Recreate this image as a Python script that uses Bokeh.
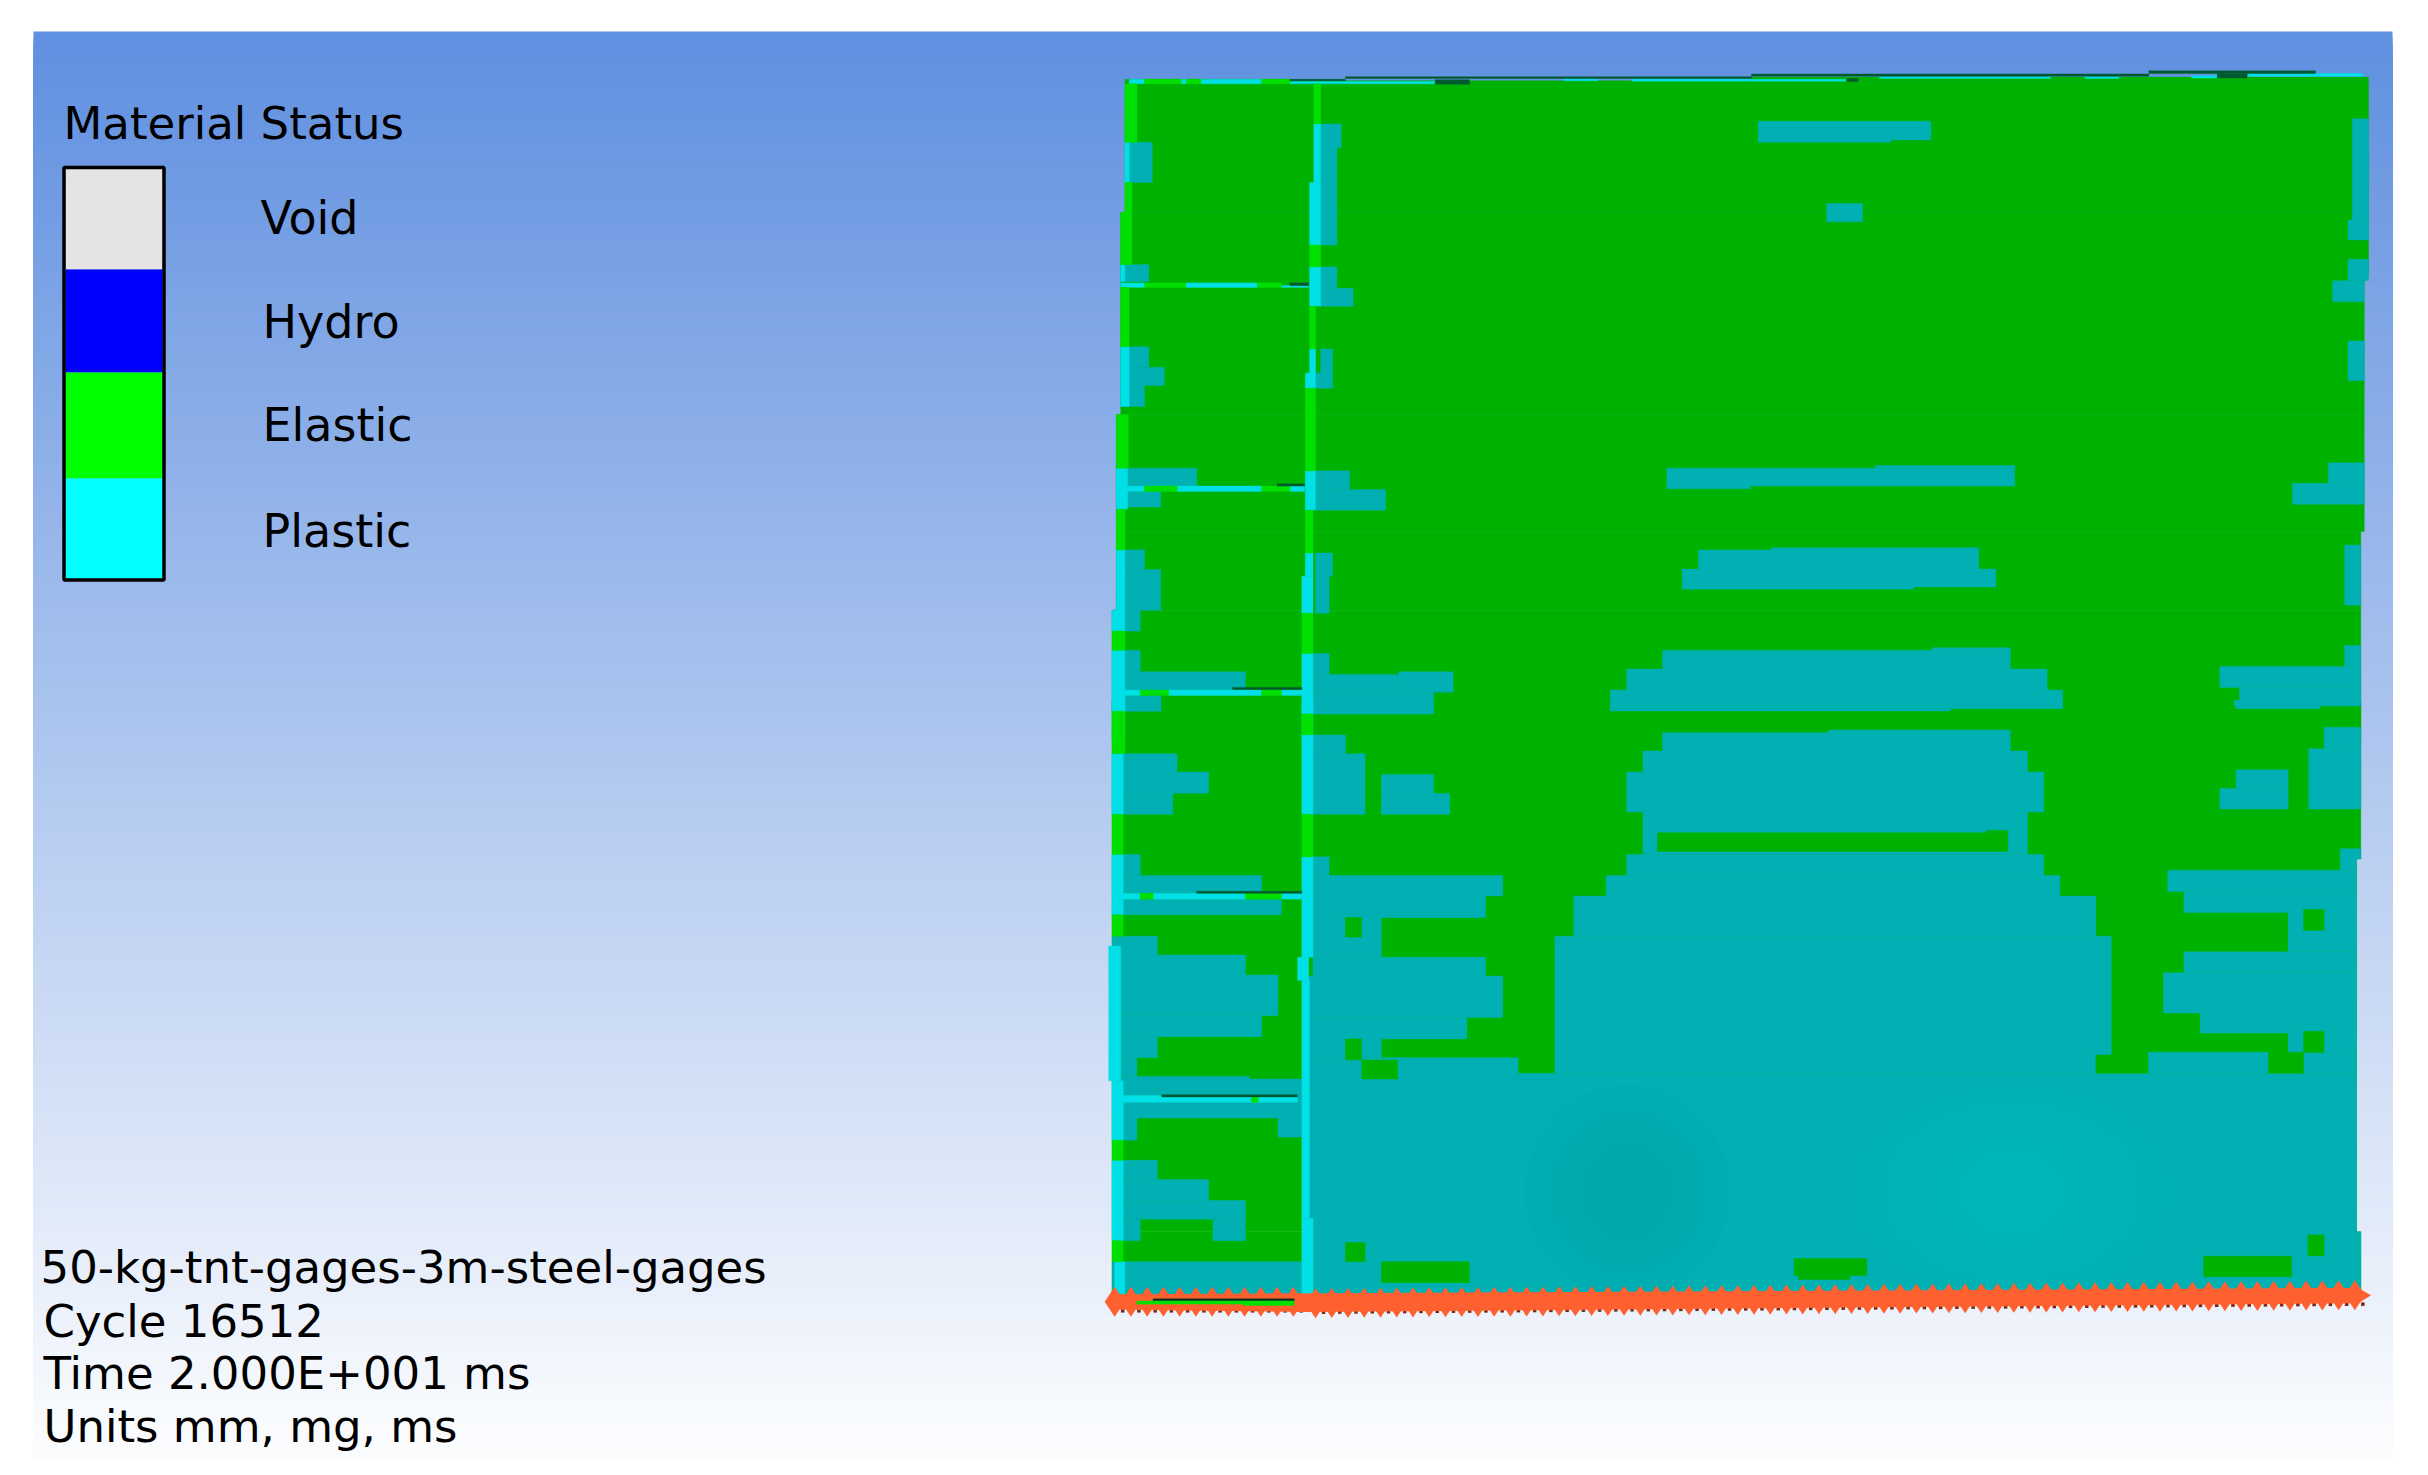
import numpy as np
from bokeh.plotting import figure
from bokeh.models import Range1d
from bokeh.core.properties import value
from bokeh.embed import file_html
from bokeh.resources import INLINE

# ---- legend ----
statuses = ["Void", "Hydro", "Elastic", "Plastic"]
status_colors = ["#e4e4e4", "#0000ff", "#00ff00", "#00ffff"]
status_edges = [168, 269, 372, 478, 578]
status_baselines = [231, 335, 438, 544]
legend_title = "Material Status"
caption_lines = ["50-kg-tnt-gages-3m-steel-gages", "Cycle 16512", "Time 2.000E+001 ms", "Units mm, mg, ms"]
caption_baselines = [1278, 1332, 1384, 1437]

# ---- model regions (x0, x1, y0, y1) ----
elastic_upper = [(52,1507,90,385),(785,1507,82,90),(52,245,87,90),(47,1507,385,530),(47,1502,530,838),
                 (42,1502,838,1100),(42,1498,1100,1276),(37,1498,1276,1568)]
elastic_lower = [(37,1498,0,355),(37,1493,355,1190),(37,1498,1190,1340)]

plastic_upper = [
    (793,995,181,223),(793,948,223,228),(873,915,365,406),
    (686,1093,958,998),(930,1093,952,958),(686,784,998,1004),
    (723,1051,1141,1184),(808,1051,1136,1141),(704,1071,1184,1224),(704,975,1224,1229),
    (681,1088,1366,1408),(997,1088,1360,1366),(639,1131,1408,1455),(620,1149,1455,1496),(620,1018,1496,1502),
    (281,305,187,240),(281,300,240,458),(281,300,507,555),(281,319,555,595),(281,295,691,745),(275,295,745,779),
    (275,315,964,1006),(275,357,1006,1052),(275,295,1148,1200),(275,291,1200,1283),
    (272,291,1373,1420),(272,372,1420,1460),(372,436,1414,1460),(272,413,1460,1508),
    (1488,1507,175,402),(1483,1507,402,447),(1483,1507,490,538),(1465,1502,538,585),(1483,1502,673,762),
    (1460,1502,946,992),(1418,1502,992,1039),(1479,1498,1130,1265),(1479,1498,1355,1402),
    (1333,1498,1402,1449),(1356,1498,1449,1490),(1352,1450,1490,1496),
    (57,84,228,318),(47,80,502,540),(47,80,686,732),(47,98,732,773),(47,75,773,820),
    (42,136,958,998),(42,94,1010,1045),(42,75,1141,1185),(42,94,1185,1276),(37,70,1276,1323),
    (37,70,1366,1414),(37,193,1414,1455),(37,94,1467,1502),
]
plastic_lower = [
    (266,1493,835,1340),(1493,1498,1190,1340),
    (620,1149,0,18),(1018,1149,0,12),(272,413,0,30),(37,94,0,24),(1352,1450,0,18),(1350,1498,0,12),
    (681,1088,72,113),(875,1088,66,72),(658,1108,113,160),(639,1127,160,250),(658,1108,250,345),
    (639,1127,345,392),(615,1146,392,438),(577,1188,438,528),(555,1206,528,835),
    (272,310,77,119),(272,333,119,255),(352,413,166,213),(352,432,213,255),(413,432,208,213),
    (272,291,350,392),(272,494,392,438),(272,474,438,486),(272,466,482,486),(272,352,486,575),
    (272,474,575,617),(266,494,617,710),(266,452,710,758),(266,352,758,800),(266,512,800,848),(512,572,848,860),
    (1455,1498,60,108),(1437,1498,108,243),(1352,1413,155,197),(1333,1413,197,243),
    (1474,1498,332,355),(1474,1493,355,380),(1272,1493,380,428),(1291,1493,428,475),(1413,1493,468,563),(1291,1493,563,610),
    (1267,1493,610,700),(1310,1493,700,745),(1413,1493,741,790),(1249,1390,788,835),(1431,1493,790,835),
    (37,113,119,160),(37,150,160,208),(37,108,208,255),(37,70,345,392),(37,212,392,432),(37,235,445,480),
    (37,90,528,570),(37,193,570,615),(37,231,615,706),(37,212,706,753),(37,90,753,800),(37,66,800,842),
    (37,198,842,848),(37,259,848,935),(37,66,935,985),(231,259,935,978),(37,90,1030,1073),(37,150,1073,1120),
    (37,193,1120,1162),(37,70,1162,1210),(155,193,1162,1210),(37,259,1257,1340),
]
elastic_islands_lower = [
    (675,1085,296,338),(1060,1085,291,296),(310,329,486,530),(310,329,758,805),(329,371,805,848),
    (1431,1455,468,515),(1431,1455,741,788),(1188,1249,794,835),(1390,1431,788,835),
    (310,333,1214,1257),(352,455,1257,1304),(835,920,1250,1288),(840,900,1288,1297),
    (1314,1417,1245,1291),(1436,1455,1197,1244),
]

bright_plastic_upper = [
    (273,281,187,318),(268,281,318,458),(268,281,507,595),(268,275,691,745),(263,275,745,779),
    (263,275,964,1052),(263,272,1148,1200),(259,272,1200,1283),(259,272,1373,1568),
    (52,57,228,318),(47,52,502,540),(47,57,686,820),(42,55,958,1050),(42,52,1141,1276),(37,52,1276,1323),(37,52,1366,1568),
    (57,75,87,97),(141,212,87,97),(118,124,87,97),(245,415,92,97),(565,605,87,90),(645,895,87,91),
    (935,1135,81,85),(1175,1215,81,85),(1300,1330,79,84),(1365,1500,74,80),
    (47,75,543,553),(123,207,543,553),(235,267,549,553),
    (42,75,998,1010),(113,212,998,1010),(245,262,998,1010),
    (37,70,1455,1467),(103,212,1455,1467),(235,259,1455,1467),
]
bright_plastic_lower = [
    (259,272,0,30),(259,272,77,255),(259,272,350,575),(254,267,575,627),(259,268,627,1160),(259,272,1160,1330),
    (37,52,0,24),(37,50,119,255),(37,50,345,480),(33,47,550,852),(37,50,852,985),(37,50,1030,1210),(40,52,1257,1330),
    (47,70,432,445),(85,193,432,445),(235,259,432,445),(47,254,885,900),
]
bright_elastic_upper = [
    (75,118,87,97),(124,141,87,97),(212,245,87,97),(52,66,97,228),(273,281,97,187),(52,60,318,385),(47,60,385,502),
    (268,281,458,507),(268,275,595,691),(47,57,553,686),(263,275,779,964),(42,56,838,958),(263,272,1052,1148),
    (42,52,1050,1141),(259,272,1283,1373),(37,52,1323,1366),
    (75,123,543,553),(207,235,543,553),(75,113,998,1010),(212,245,998,1010),(70,103,1455,1467),(212,235,1455,1467),
]
bright_elastic_lower = [
    (259,272,30,77),(259,272,255,350),(37,52,24,119),(37,50,255,345),(37,50,480,528),(37,50,985,1030),(37,50,1210,1257),
    (70,85,432,445),(193,235,432,445),(200,208,888,900),
]
shell_upper = [
    (245,310,87,90),(310,785,81,85),(785,1250,75,80),(1250,1445,68,74),(415,455,88,98),(897,910,85,92),(1330,1365,74,84),
    (245,267,543,549),(230,262,993,998),(178,259,1449,1454),
]
shell_lower = [(136,259,427,432),(95,254,883,888)]

# boundary markers along the base of the column and of the main panel
rail_nodes_left = [40,59,78,97,116,135,154,173,192,211,230,249]
rail_nodes_main = [275,294,313,332,351,370,389,408,427,446,465,484,503,522,541,560,579,598,617,636,655,674,693,712,731,
                   750,769,788,807,826,845,864,883,902,921,940,959,978,997,1016,1035,1054,1073,1092,1111,1130,1149,1168,
                   1187,1206,1225,1244,1263,1282,1301,1320,1339,1358,1377,1396,1415,1434,1453,1472,1491]
rail_left_y = 1347
rail_main_y = [1350, 1332]
rail_band_x = [30, 45, 1495, 1510, 1495, 265, 45]
rail_band_y = [1347, 1330, 1316, 1332, 1350, 1370, 1364]

# blotches in the plastic zone: (x, y, width, height)
dark_blotches = [(640,1100,240,480),(640,1100,195,390),(640,1100,155,310),(640,1100,115,230),(640,1100,75,150)]
light_blotches = [(1090,1100,360,460),(1090,1100,290,380),(1090,1100,230,310),(1090,1100,170,240),(1090,1100,110,170)]


def sx(z):
    return 1080 + np.asarray(z, dtype=float) / 1.17

def uy(z):
    return 40 + np.asarray(z, dtype=float) / 2.24

def ly(z):
    return 700 + np.asarray(z, dtype=float) / 2.24


p = figure(width=2412, height=1459, x_range=Range1d(0, 2412), y_range=Range1d(1459, 0),
           output_backend="svg", toolbar_location=None, min_border=0)
p.xaxis.visible = False
p.yaxis.visible = False
p.grid.visible = False
p.outline_line_color = None
p.background_fill_color = "white"
p.border_fill_color = "white"

# backdrop gradient, painted top to bottom
bg_top = np.array([96, 144, 224])
ys = np.arange(31, 1475, 6)
cols = ["#%02x%02x%02x" % tuple(int(c) for c in bg_top + (255 - bg_top) * (y - 31) / (1475 - 31)) for y in ys]
p.quad(left=33, right=2392, top=ys, bottom=1475, fill_color=cols, line_color=None)


def boxes(rects, yfun, color):
    a = np.array(rects, dtype=float)
    p.quad(left=sx(a[:, 0]), right=sx(a[:, 1]), top=yfun(a[:, 2]), bottom=yfun(a[:, 3]),
           fill_color=color, line_color=color, line_width=0.4)


GREEN = "#00b200"
TEAL = "#00b0b3"
boxes(elastic_upper, uy, GREEN)
boxes(elastic_lower, ly, GREEN)
boxes(plastic_upper, uy, TEAL)
boxes(plastic_lower, ly, TEAL)
boxes(elastic_islands_lower, ly, GREEN)

for blot, col, alpha in ((dark_blotches, "#009498", 0.06), (light_blotches, "#00d4d8", 0.05)):
    a = np.array(blot, dtype=float)
    p.ellipse(x=sx(a[:, 0]), y=ly(a[:, 1]), width=a[:, 2] / 1.17, height=a[:, 3] / 2.24,
              fill_color=col, fill_alpha=alpha, line_color=None)

boxes(bright_plastic_upper, uy, "#00e0e6")
boxes(bright_plastic_lower, ly, "#00e0e6")
boxes(bright_elastic_upper, uy, "#00e000")
boxes(bright_elastic_lower, ly, "#00e000")
boxes(shell_upper, uy, "#005a30")
boxes(shell_lower, ly, "#005a30")

# rail
nl = np.array(rail_nodes_left, dtype=float)
nm = np.array(rail_nodes_main, dtype=float)
ym = rail_main_y[0] + (rail_main_y[1] - rail_main_y[0]) * (nm - nm[0]) / (nm[-1] - nm[0])
rail_x = np.concatenate([sx(nl), sx(nm)])
rail_y = np.concatenate([ly(np.full(nl.size, rail_left_y)), ly(ym)])
p.scatter(rail_x + 8, rail_y + 9, marker="square", size=3.5, fill_color="#7a2a10", line_color=None)
p.patch(x=sx(rail_band_x), y=ly(rail_band_y), fill_color="#ff6030", line_color=None)
p.scatter(rail_x, rail_y, marker="diamond", size=30, fill_color="#ff6030", line_color=None)
boxes([(85, 250, 1340, 1345)], ly, "#103020")
boxes([(66, 250, 1345, 1355)], ly, "#00e000")
boxes([(66, 190, 1353, 1357)], ly, "#ff6030")

# legend
edges = np.array(status_edges, dtype=float)
p.quad(left=65, right=162, top=edges[:-1], bottom=edges[1:], fill_color=status_colors, line_color=None)
p.quad(left=[63.5], right=[163.5], top=[167], bottom=[579.5], fill_color=None, line_color="black", line_width=3.5)

FONT = value("DejaVu Sans")
p.text(x=[63], y=[136 - 13], text=[legend_title], text_font=FONT, text_font_size="45px",
       text_color="#000000", text_baseline="alphabetic")
p.text(x=[260, 262, 262, 262], y=np.array(status_baselines) - 14, text=statuses, text_font=FONT,
       text_font_size="46px", text_color="#000000", text_baseline="alphabetic")
p.text(x=[40, 43, 43, 43], y=np.array(caption_baselines) - 11, text=caption_lines, text_font=FONT,
       text_font_size="45px", text_color="#000000", text_baseline="alphabetic")

open("out.html", "w").write(file_html(p, INLINE))
